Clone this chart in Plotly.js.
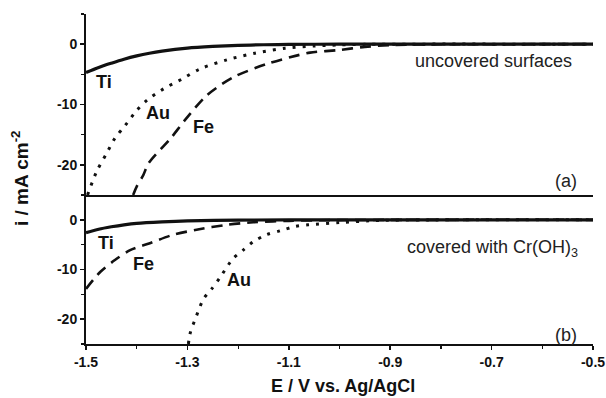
<!DOCTYPE html>
<html><head><meta charset="utf-8">
<script src="https://cdn.plot.ly/plotly-3.0.1.min.js"></script>
<style>html,body{margin:0;padding:0;background:#fff}</style>
</head><body><div id="chart" style="width:606px;height:398px"></div>
<script>
// Tick labels
const xTickVals = [-1.5, -1.3, -1.1, -0.9, -0.7, -0.5];
const xTickText = ["-1.5", "-1.3", "-1.1", "-0.9", "-0.7", "-0.5"];
const yTickVals = [0, -10, -20];
const yTickText = ["0", "-10", "-20"];

// (a) uncovered surfaces
const aTiE = [-1.5, -1.475, -1.45, -1.425, -1.4, -1.375, -1.35, -1.3, -1.25, -1.2, -1.15, -1.1, -1.0, -0.9, -0.5];
const aTiI = [-4.7, -3.85, -3.15, -2.5, -1.95, -1.5, -1.15, -0.65, -0.38, -0.2, -0.1, -0.04, 0, 0, 0];
const aAuE = [-1.497, -1.479, -1.46, -1.443, -1.423, -1.40, -1.38, -1.347, -1.311, -1.275, -1.222, -1.167, -1.107, -1.05, -1.0, -0.95, -0.9, -0.5];
const aAuI = [-25, -21.1, -18.2, -15.6, -13.5, -11.0, -9.3, -7.4, -5.8, -4.1, -2.6, -1.5, -0.66, -0.3, -0.12, -0.03, 0, 0];
const aFeE = [-1.407, -1.40, -1.387, -1.377, -1.331, -1.305, -1.262, -1.21, -1.144, -1.085, -1.058, -0.999, -0.95, -0.9, -0.85, -0.5];
const aFeI = [-25, -23.6, -21.7, -19.8, -15.4, -12.6, -8.5, -5.5, -3.3, -1.9, -1.4, -0.95, -0.45, -0.15, -0.05, 0];

// (b) covered with Cr(OH)3
const bTiE = [-1.5, -1.475, -1.45, -1.425, -1.4, -1.35, -1.3, -1.2, -1.1, -0.5];
const bTiI = [-2.6, -1.9, -1.4, -1.0, -0.7, -0.4, -0.2, -0.05, 0, 0];
const bFeE = [-1.5, -1.472, -1.443, -1.413, -1.374, -1.328, -1.282, -1.222, -1.17, -1.1, -1.0, -0.5];
const bFeI = [-13.9, -10.5, -8.1, -6.1, -4.7, -3.0, -2.0, -1.0, -0.5, -0.2, -0.05, 0];
const bAuE = [-1.298, -1.295, -1.282, -1.268, -1.252, -1.235, -1.21, -1.19, -1.17, -1.144, -1.117, -1.088, -1.062, -0.999, -0.94, -0.88, -0.5];
const bAuI = [-25, -23.0, -19.3, -15.9, -13.9, -11.5, -7.8, -6.1, -4.4, -3.0, -2.2, -1.35, -1.0, -0.55, -0.2, -0.05, 0];

const FONT = "Liberation Sans, Arial, sans-serif";
const INK = "#111";
const solid = {color: INK, width: 3.2};
const dotted = {color: INK, width: 3, dash: "3px,7px"};
const dashed = {color: INK, width: 2.6, dash: "11px,7px"};

const traces = [
  {x: aTiE, y: aTiI, xaxis: "x2", yaxis: "y2", line: solid},
  {x: aAuE, y: aAuI, xaxis: "x2", yaxis: "y2", line: dotted},
  {x: aFeE, y: aFeI, xaxis: "x2", yaxis: "y2", line: dashed},
  {x: bTiE, y: bTiI, xaxis: "x", yaxis: "y", line: solid},
  {x: bFeE, y: bFeI, xaxis: "x", yaxis: "y", line: dashed},
  {x: bAuE, y: bAuI, xaxis: "x", yaxis: "y", line: dotted}
].map(t => { t.mode = "lines"; t.line = Object.assign({shape: "spline", smoothing: 0.8}, t.line); t.hoverinfo = "skip"; return t; });

const split = 149 / 330;
const tickFont = {family: FONT, size: 14, color: INK, weight: "bold"};
const xBase = {range: [-1.5, -0.5], showline: true, linewidth: 2, linecolor: INK, zeroline: false, showgrid: false,
  tickmode: "array", tickvals: xTickVals, ticktext: xTickText, tickcolor: INK, tickwidth: 1.5};
const yBase = {range: [-25, 5], showline: true, linewidth: 2, linecolor: INK, zeroline: false, showgrid: false,
  tickmode: "array", tickvals: yTickVals, ticktext: yTickText, tickcolor: INK, tickwidth: 1.5};
const xMinor = {tickmode: "linear", tick0: -1.5, dtick: 0.1, ticklen: 3, tickcolor: INK, tickwidth: 1.2};
const yMinor = {tickmode: "linear", tick0: 0, dtick: 5, ticklen: 3, tickcolor: INK, tickwidth: 1.2};
const rMinor = {ticks: "inside", tickmode: "linear", tick0: 0, dtick: 2.5, ticklen: 3, tickcolor: INK, tickwidth: 1.2};

const layout = {
  width: 606, height: 398, margin: {l: 86, r: 13, t: 14, b: 54},
  paper_bgcolor: "#fff", plot_bgcolor: "#fff", showlegend: false,
  font: {family: FONT, color: INK},
  // bottom panel
  xaxis: Object.assign({}, xBase, {anchor: "y", ticks: "outside", ticklen: 4, tickfont: tickFont, minor: Object.assign({ticks: "outside"}, xMinor)}),
  yaxis: Object.assign({}, yBase, {domain: [0, split], anchor: "x", ticks: "outside", ticklen: 4, tickfont: tickFont, minor: Object.assign({ticks: "outside"}, yMinor)}),
  // top panel
  xaxis2: Object.assign({}, xBase, {anchor: "y2", matches: "x", ticks: "", showticklabels: false}),
  yaxis2: Object.assign({}, yBase, {domain: [split, 1], anchor: "x2", ticks: "outside", ticklen: 4, tickfont: tickFont, minor: Object.assign({ticks: "outside"}, yMinor)}),
  // mirrored inside ticks
  xaxis3: Object.assign({}, xBase, {overlaying: "x", anchor: "y", side: "top", ticks: "inside", ticklen: 5, showticklabels: false, minor: Object.assign({ticks: "inside"}, xMinor)}),
  xaxis4: Object.assign({}, xBase, {overlaying: "x2", anchor: "y2", side: "top", ticks: "inside", ticklen: 5, showticklabels: false, minor: Object.assign({ticks: "inside"}, xMinor)}),
  yaxis3: Object.assign({}, yBase, {overlaying: "y", anchor: "x", side: "right", ticks: "inside", tickmode: "linear", tick0: 0, dtick: 5, ticklen: 6, showticklabels: false, minor: rMinor}),
  yaxis4: Object.assign({}, yBase, {overlaying: "y2", anchor: "x2", side: "right", ticks: "inside", tickmode: "linear", tick0: 0, dtick: 5, ticklen: 6, showticklabels: false, minor: rMinor}),
  annotations: []
};

const boldLbl = {family: FONT, size: 18, color: INK, weight: "bold"};
const normLbl = {family: FONT, size: 18, color: "#222"};
function ann(xr, yr, x, y, text, font, xanchor) {
  return {xref: xr, yref: yr, x: x, y: y, text: text, showarrow: false, font: font, xanchor: xanchor || "center", yanchor: "middle"};
}
layout.annotations.push(
  ann("x2", "y2", -1.4645, -6.2, "Ti", boldLbl),
  ann("x2", "y2", -1.358, -11.4, "Au", boldLbl),
  ann("x2", "y2", -1.269, -13.7, "Fe", boldLbl),
  ann("x2", "y2", -0.537, -2.75, "uncovered surfaces", normLbl, "right"),
  ann("x2", "y2", -0.527, -22.6, "(a)", normLbl, "right"),
  ann("x", "y", -1.4605, -4.7, "Ti", boldLbl),
  ann("x", "y", -1.3875, -8.9, "Fe", boldLbl),
  ann("x", "y", -1.198, -12.2, "Au", boldLbl),
  ann("x", "y", -0.525, -5.8, "covered with Cr(OH)<sub>3</sub>", normLbl, "right"),
  ann("x", "y", -0.527, -23.2, "(b)", normLbl, "right"),
  {xref: "paper", yref: "paper", x: -0.13, y: 0.503, text: "i / mA cm<sup>-2</sup>", textangle: -90, showarrow: false,
   font: {family: FONT, size: 19, color: INK, weight: "bold"}, xanchor: "center", yanchor: "middle"},
  {xref: "paper", yref: "paper", x: 0.507, y: -0.128, text: "E / V vs. Ag/AgCl", showarrow: false,
   font: {family: FONT, size: 18, color: INK, weight: "bold"}, xanchor: "center", yanchor: "middle"}
);

Plotly.newPlot("chart", traces, layout, {staticPlot: true});
</script></body></html>
